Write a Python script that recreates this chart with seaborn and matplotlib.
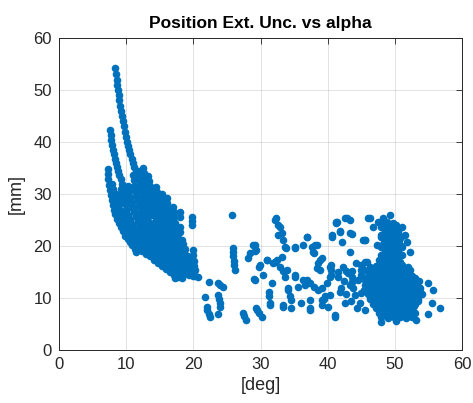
#!/usr/bin/env python3
"""
Position Ext. Unc. vs alpha -- scatter, MATLAB look
"""

import pandas as pd
import matplotlib
matplotlib.use('Agg')
import matplotlib.pyplot as plt
import seaborn as sns

sns.set_style('white')
plt.rcParams['font.family'] = ['Liberation Sans', 'DejaVu Sans']

# ============================================================================
# Data: alpha [deg], uncertainty [mm]
# ============================================================================
# steep streaks on the left (small alpha)
streak_a_deg = [8.4, 8.5, 8.6, 8.7, 8.8, 8.9, 9.0, 9.1, 9.25, 9.4, 9.55, 9.7, 9.85, 10.0,
                10.15, 10.3, 10.45, 10.6, 10.8, 11.0, 11.2, 11.4, 11.6, 11.8, 12.0, 12.3,
                12.6, 12.9, 13.2, 13.6, 14.0, 14.5, 15.0, 15.6, 16.2, 16.8, 17.5, 18.2, 19.0]
streak_a_mm = [54.2, 53.0, 52.0, 51.0, 50.0, 49.0, 48.0, 47.0, 46.0, 45.0, 44.0, 43.0, 42.0, 41.0,
               40.0, 39.2, 38.4, 37.6, 36.8, 36.0, 35.2, 34.4, 33.6, 32.8, 32.0, 31.0,
               30.0, 29.0, 28.0, 27.0, 26.0, 25.0, 24.0, 23.0, 22.0, 21.0, 20.0, 19.0, 18.0]

streak_b_deg = [7.6, 7.7, 7.8, 7.9, 8.0, 8.15, 8.3, 8.45, 8.6, 8.8, 9.0, 9.2, 9.4, 9.6, 9.8,
                10.0, 10.3, 10.6, 10.9, 11.2, 11.6, 12.0, 12.5, 13.0, 13.5, 14.0, 14.6, 15.2,
                15.8, 16.5, 17.2, 18.0]
streak_b_mm = [42.4, 41.4, 40.4, 39.4, 38.5, 37.6, 36.8, 36.0, 35.2, 34.4, 33.6, 32.8, 32.0, 31.2, 30.4,
               29.7, 28.9, 28.1, 27.3, 26.5, 25.7, 24.9, 24.0, 23.2, 22.4, 21.7, 21.0, 20.3,
               19.6, 18.9, 18.2, 17.5]

streak_c_deg = [7.3, 7.3, 7.35, 7.45, 7.55, 7.7, 7.85, 8.0, 8.2, 8.4, 8.65, 8.9, 9.2, 9.5, 9.85,
                10.2, 10.6, 11.0, 11.4, 11.9, 12.4, 12.9, 13.5, 14.1, 14.7, 15.3, 15.9, 16.5,
                17.1, 17.7, 18.3, 10.9, 11.5, 12.0, 11.3]
streak_c_mm = [34.8, 33.8, 32.8, 31.8, 30.8, 29.8, 28.8, 27.9, 27.0, 26.1, 25.2, 24.4, 23.6, 22.8, 22.0,
               21.3, 20.7, 20.2, 19.8, 19.4, 19.0, 18.5, 18.0, 17.4, 16.8, 16.2, 15.6, 15.0,
               14.4, 14.0, 13.8, 20.2, 18.9, 19.2, 19.5]

streak_d_deg = [11.0, 11.1, 11.2, 11.35, 11.5, 11.7, 11.9, 12.15, 12.4, 12.7, 13.0, 13.4, 13.8, 14.3,
                14.8, 15.4, 16.0, 16.7, 17.4, 18.1, 18.8, 19.5, 20.2]
streak_d_mm = [33.6, 32.6, 31.6, 30.6, 29.6, 28.6, 27.6, 26.6, 25.6, 24.6, 23.7, 22.8, 22.0, 21.2,
               20.4, 19.7, 19.0, 18.3, 17.6, 17.0, 16.4, 15.8, 15.3]

streak_e_deg = [12.5, 12.6, 12.7, 12.85, 13.0, 13.2, 13.4, 13.6, 13.85, 14.1, 14.4, 14.7, 15.1, 15.5,
                16.0, 16.5, 17.1, 17.7, 18.4, 19.1, 19.8]
streak_e_mm = [35.0, 34.0, 33.0, 32.0, 31.0, 30.0, 29.0, 28.0, 27.0, 26.0, 25.0, 24.0, 23.0, 22.1,
               21.2, 20.4, 19.6, 18.9, 18.2, 17.6, 17.0]

streak_f_deg = [14.5, 14.55, 14.6, 14.7, 14.85, 15.0, 15.2, 15.45, 15.7, 16.0, 16.35, 16.7, 17.1, 17.5,
                18.0, 18.6, 19.2, 19.8,
                16.1, 16.15, 16.2, 16.3, 16.45, 16.6, 16.8, 17.0, 17.25, 17.5, 17.8, 18.1, 18.5, 18.9, 19.3]
streak_f_mm = [31.4, 30.4, 29.4, 28.4, 27.4, 26.4, 25.4, 24.4, 23.4, 22.4, 21.5, 20.6, 19.8, 19.0,
               18.3, 17.6, 17.0, 16.5,
               29.2, 28.2, 27.2, 26.2, 25.2, 24.2, 23.2, 22.2, 21.2, 20.3, 19.4, 18.6, 17.8, 17.0, 16.3]

streak_g_deg = [8.5, 8.7, 8.9, 9.15, 9.4, 9.7, 10.0, 10.35, 10.7, 11.1, 11.5, 12.0, 12.5, 13.1, 13.7,
                14.3, 15.0, 15.7, 16.4, 17.1, 17.8, 18.5, 19.2,
                10.3, 10.45, 10.6, 10.8, 11.0, 11.25, 11.5, 11.8, 12.1, 12.5, 12.9, 13.4, 13.9, 14.5,
                15.1, 15.8, 16.5, 17.2, 17.9, 18.6, 19.3]
streak_g_mm = [30.0, 29.0, 28.0, 27.0, 26.0, 25.1, 24.2, 23.4, 22.7, 22.0, 21.4, 20.8, 20.3, 19.7, 19.2,
               18.6, 18.0, 17.4, 16.8, 16.2, 15.6, 15.1, 14.7,
               31.5, 30.5, 29.5, 28.5, 27.5, 26.5, 25.5, 24.6, 23.7, 22.8, 22.0, 21.2, 20.5, 19.8,
               19.1, 18.4, 17.7, 17.1, 16.5, 15.9, 15.4]

# extra streaks filling the left band
streak_h_deg = [7.9, 8.0, 8.1, 8.25, 8.4, 8.6, 8.85, 9.1, 9.4, 9.75, 10.1, 10.5, 10.9, 11.4,
                11.9, 12.5, 13.1, 13.7, 14.4, 15.1, 15.8, 16.5, 17.2, 17.9, 18.6, 19.3, 20.0,
                9.3, 9.45, 9.6, 9.8, 10.0, 10.25, 10.5, 10.8, 11.1, 11.5, 11.9, 12.4, 12.9,
                13.5, 14.1, 14.7, 15.4, 16.1, 16.8, 17.5, 18.2, 18.9, 19.6]
streak_h_mm = [32.0, 31.0, 30.0, 29.0, 28.0, 27.0, 26.0, 25.0, 24.2, 23.4, 22.7, 22.0, 21.4, 20.8,
               20.3, 19.8, 19.2, 18.7, 18.1, 17.5, 16.9, 16.3, 15.7, 15.2, 14.8, 14.4, 14.2,
               31.0, 30.0, 29.0, 28.0, 27.0, 26.0, 25.1, 24.2, 23.4, 22.6, 21.9, 21.2, 20.6,
               20.0, 19.4, 18.8, 18.2, 17.6, 17.0, 16.4, 15.9, 15.4, 15.0]

streak_i_deg = [11.8, 11.9, 12.0, 12.1, 12.25, 12.4, 12.6, 12.8, 13.05, 13.3, 13.6, 13.95, 14.3,
                14.75, 15.2, 15.75, 16.3, 16.9, 17.6, 18.3, 19.0, 19.7,
                13.3, 13.4, 13.5, 13.65, 13.8, 14.0, 14.2, 14.45, 14.7, 15.0, 15.35, 15.7, 16.1,
                16.6, 17.1, 17.7, 18.3, 19.0, 19.7]
streak_i_mm = [34.5, 33.5, 32.5, 31.5, 30.5, 29.5, 28.5, 27.5, 26.5, 25.5, 24.5, 23.6, 22.7,
               21.9, 21.1, 20.3, 19.6, 18.9, 18.2, 17.5, 16.9, 16.3,
               33.5, 32.5, 31.5, 30.5, 29.5, 28.5, 27.5, 26.5, 25.5, 24.5, 23.5, 22.6, 21.7,
               20.8, 20.0, 19.2, 18.5, 17.8, 17.2]

streak_j_deg = [15.3, 15.35, 15.45, 15.6, 15.75, 15.95, 16.2, 16.45, 16.75, 17.1, 17.5, 17.9,
                18.4, 18.9, 19.5,
                17.0, 17.05, 17.1, 17.2, 17.35, 17.5, 17.7, 17.95, 18.25, 18.6, 19.0, 19.4]
streak_j_mm = [30.0, 29.0, 28.0, 27.0, 26.0, 25.0, 24.0, 23.0, 22.0, 21.0, 20.1, 19.3,
               18.5, 17.8, 17.2,
               27.5, 26.5, 25.5, 24.5, 23.5, 22.5, 21.5, 20.5, 19.6, 18.8, 18.0, 17.3]

# short vertical runs near 18-20 deg
tail_deg = [18.0, 18.0, 18.0, 18.05, 18.3, 18.5, 18.8, 19.8, 19.8, 19.8,
            20.0, 20.0, 20.05, 20.1, 20.15, 20.2, 17.3, 20.7]
tail_mm = [26.5, 25.6, 23.7, 22.7, 21.2, 20.3, 19.5, 25.6, 24.8, 24.0,
           19.2, 18.2, 17.2, 16.2, 15.2, 14.3, 13.8, 14.0]

# sparse points between 20 and 32 deg
gap_deg = [21.7, 22.3, 22.0, 22.1, 22.3, 22.5, 23.7, 24.0, 24.4, 23.7, 23.8, 23.9, 24.0, 23.7,
           25.8, 25.9, 25.9, 25.95, 26.0, 26.1, 26.2, 27.4, 27.6, 27.8, 29.2, 29.2, 28.2, 28.4,
           28.9, 29.4, 29.0, 29.2, 29.5, 29.4, 29.8, 30.2, 29.9, 29.8, 30.4, 30.9, 31.7, 31.2,
           31.3, 31.4, 31.4]
gap_mm = [10.2, 13.0, 8.3, 7.6, 7.0, 6.3, 12.9, 12.5, 12.2, 10.6, 9.8, 9.0, 8.3, 7.0,
          26.0, 19.6, 18.8, 18.0, 17.2, 16.3, 15.4, 7.1, 6.5, 5.8, 20.2, 19.0, 17.6, 18.6,
          20.2, 19.2, 13.7, 13.5, 7.7, 8.0, 7.2, 6.4, 16.3, 16.0, 14.4, 17.3, 12.8, 11.2,
          10.3, 9.0, 8.7]

# scattered middle range 32-46 deg
mid_deg = [32.3, 32.2, 32.6, 32.9, 33.2, 32.6, 33.4, 33.8, 33.6, 31.9, 32.4, 32.9, 33.2, 32.2,
           33.4, 33.6, 33.9, 34.1, 34.1, 34.4, 34.6, 34.6, 33.4, 33.4, 35.1, 35.1, 35.1, 35.1,
           35.6, 35.97, 36.9, 36.9, 36.4, 36.4, 36.6, 36.9, 37.4, 37.9, 37.4, 37.4, 37.4, 37.6,
           38.4, 38.1, 37.9, 37.8, 38.6, 38.4, 38.9, 38.9, 39.1, 39.1, 39.4, 39.1, 38.6, 39.1,
           39.9, 40.3, 40.3, 40.5, 40.5, 40.5, 40.6, 40.6, 41.2, 41.4, 41.8, 42.1, 41.1, 41.1,
           40.1, 39.6, 40.3, 41.6, 41.8, 42.6, 42.8, 42.9, 43.3, 43.3, 43.3, 43.3, 43.6, 43.6,
           43.6, 44.3, 44.9, 44.9, 44.9, 45.3, 45.6, 45.6, 45.8, 45.6, 46.3, 41.3, 42.6, 43.6,
           41.8, 30.9, 32.2]
mid_mm = [25.3, 25.0, 24.0, 23.7, 22.5, 22.1, 21.2, 19.6, 19.9, 16.7, 17.3, 16.0, 17.9, 17.0,
          15.1, 14.1, 15.4, 11.9, 11.5, 10.3, 9.6, 8.0, 8.7, 8.3, 19.9, 19.6, 14.1, 14.4,
          12.2, 9.0, 21.8, 21.7, 20.2, 13.5, 12.5, 13.5, 12.9, 12.2, 9.6, 8.0, 7.7, 19.9,
          20.2, 20.2, 18.6, 18.8, 16.7, 15.7, 15.4, 17.3, 17.6, 9.6, 9.9, 8.7, 11.5, 11.9,
          12.8, 14.1, 16.0, 16.3, 15.3, 14.4, 22.1, 21.7, 24.4, 24.6, 22.7, 20.8, 6.7, 6.4,
          8.3, 10.3, 10.6, 14.1, 11.2, 9.0, 15.1, 25.4, 25.0, 22.5, 18.8, 12.5, 15.1, 14.1,
          13.1, 8.0, 16.3, 15.3, 14.4, 21.2, 21.2, 17.0, 17.0, 12.5, 9.9, 24.7, 25.3, 22.4,
          22.8, 17.3, 17.0]

# patch left of the main cluster
patch_deg = [42.3, 43.0, 42.5, 43.8, 44.5, 44.0, 45.0, 42.8, 43.5, 44.8, 45.2, 44.2, 45.5, 42.0,
             41.5, 45.9]
patch_mm = [16.0, 14.8, 13.2, 12.0, 13.5, 10.6, 11.0, 10.8, 9.4, 9.0, 15.5, 16.8, 7.7, 12.0,
            15.0, 13.8]

# tall column of the cluster around 48-51 deg
column_deg = [48.3, 47.5, 48.8, 48.2, 49.3, 50.2, 47.9, 51.0, 48.5, 49.6, 50.4, 48.0, 49.0, 50.1,
              51.5, 48.4, 49.4, 50.6, 51.8, 47.3, 48.1, 49.1, 50.0, 50.8, 48.5, 49.6, 50.5, 52.3,
              48.0, 49.0, 50.0, 51.0, 47.6, 48.6, 49.6, 50.5, 48.1, 49.1, 50.1, 51.1,
              49.3, 46.3, 46.8, 46.0, 45.6,
              49.8, 48.9, 49.9, 48.6, 49.5, 50.5, 48.0, 49.0, 49.9, 50.9, 48.6, 49.6, 50.4,
              48.0, 49.0, 50.0, 51.0, 48.5, 49.5, 50.5, 48.1, 49.1, 50.1, 47.8, 48.8, 49.8, 50.8]
column_mm = [25.3, 24.7, 24.7, 24.0, 24.0, 24.0, 23.7, 23.7, 23.0, 23.0, 23.0, 22.1, 22.1, 22.1,
             22.1, 21.2, 21.2, 21.2, 20.8, 20.2, 20.2, 20.2, 20.2, 20.2, 19.3, 19.3, 19.3, 18.9,
             18.3, 18.3, 18.3, 18.3, 17.3, 17.3, 17.3, 17.3, 16.4, 16.4, 16.4, 16.4,
             26.0, 25.3, 23.7, 25.3, 21.2,
             24.5, 23.5, 23.5, 22.6, 22.6, 22.6, 21.7, 21.7, 21.7, 21.7, 20.7, 20.7, 20.7,
             19.8, 19.8, 19.8, 19.8, 18.8, 18.8, 18.8, 17.8, 17.8, 17.8, 16.9, 16.9, 16.9, 16.9]

# dense blob of the cluster, 46-56 deg and 5-16 mm
blob_deg = [46.3, 47.2, 52.0,
            45.8, 46.8, 47.7, 48.6, 49.5, 50.4, 51.3, 52.2,
            46.2, 47.1, 48.0, 48.9, 49.8, 50.7, 51.6, 52.5,
            45.5, 46.5, 47.4, 48.3, 49.2, 50.1, 51.0, 51.9, 52.8, 53.6,
            46.0, 46.9, 47.8, 48.7, 49.6, 50.5, 51.4, 52.3, 53.2, 55.0,
            45.4, 46.4, 47.3, 48.2, 49.1, 50.0, 50.9, 51.8, 52.7, 53.5, 55.7,
            46.0, 46.9, 47.8, 48.7, 49.6, 50.5, 51.4, 52.3, 53.2, 54.0,
            46.4, 47.3, 48.2, 49.1, 50.0, 50.9, 51.8, 52.7, 53.5,
            46.8, 47.7, 48.6, 49.5, 50.4, 51.3, 52.2, 53.0, 55.5,
            47.2, 48.1, 49.0, 49.9, 50.8, 51.7, 52.6, 56.7,
            47.6, 48.5, 49.4, 50.3, 51.2, 52.1, 53.0, 55.0,
            48.0, 49.0, 49.9, 50.8, 51.7, 52.6,
            48.0, 50.2, 53.2,
            47.0, 48.0, 49.0, 50.0, 51.0,
            46.6, 47.5, 48.4, 49.3, 50.2, 51.1, 52.0,
            45.8, 46.7, 47.6, 48.5, 49.4, 50.3, 51.2, 52.1, 53.0,
            46.2, 47.1, 48.0, 48.9, 49.8, 50.7, 51.6, 52.5, 53.3,
            46.5, 47.4, 48.3, 49.2, 50.1, 51.0, 51.9, 52.8, 53.8,
            46.7, 47.6, 48.5, 49.4, 50.3, 51.2, 52.1, 53.0, 53.8,
            47.0, 47.9, 48.8, 49.7, 50.6, 51.5, 52.4, 53.2,
            47.3, 48.2, 49.1, 50.0, 50.9, 51.8, 52.6, 53.4,
            47.5, 48.4, 49.3, 50.2, 51.1, 52.0, 52.9,
            48.0, 48.9, 49.8, 50.7, 51.6, 52.5,
            48.5, 49.4, 50.3, 51.2, 52.1]
blob_mm = [16.0, 16.1, 15.9,
           15.2, 15.3, 15.1, 15.2, 15.4, 15.2, 15.0, 15.3,
           14.3, 14.2, 14.4, 14.3, 14.1, 14.3, 14.4, 14.2,
           13.4, 13.5, 13.3, 13.4, 13.6, 13.4, 13.2, 13.4, 13.5, 13.3,
           12.5, 12.4, 12.6, 12.5, 12.3, 12.5, 12.6, 12.4, 12.5, 12.8,
           11.6, 11.7, 11.5, 11.6, 11.8, 11.6, 11.4, 11.6, 11.7, 11.5, 11.5,
           10.7, 10.6, 10.8, 10.7, 10.5, 10.7, 10.8, 10.6, 10.7, 10.8,
           9.8, 9.9, 9.7, 9.8, 10.0, 9.8, 9.6, 9.8, 9.9,
           8.9, 8.8, 9.0, 8.9, 8.7, 8.9, 9.0, 8.8, 9.0,
           8.0, 8.1, 7.9, 8.0, 8.2, 8.0, 7.8, 8.0,
           7.1, 7.0, 7.2, 7.1, 6.9, 7.1, 7.2, 7.0,
           6.3, 6.2, 6.4, 6.3, 6.1, 6.3,
           5.4, 5.6, 5.8,
           15.7, 15.6, 15.8, 15.7, 15.6,
           14.8, 14.7, 14.9, 14.8, 14.7, 14.9, 14.8,
           13.9, 13.8, 14.0, 13.9, 13.8, 14.0, 13.9, 13.8, 13.9,
           13.0, 12.9, 13.1, 13.0, 12.9, 13.1, 13.0, 12.9, 13.0,
           12.0, 12.1, 11.9, 12.0, 12.1, 11.9, 12.0, 12.1, 12.0,
           11.1, 11.0, 11.2, 11.1, 11.0, 11.2, 11.1, 11.0, 11.1,
           10.2, 10.3, 10.1, 10.2, 10.3, 10.1, 10.2, 10.3,
           9.3, 9.4, 9.2, 9.3, 9.4, 9.2, 9.3, 9.4,
           8.4, 8.5, 8.3, 8.4, 8.5, 8.3, 8.4,
           7.5, 7.6, 7.4, 7.5, 7.6, 7.4,
           6.7, 6.6, 6.8, 6.7, 6.6]

# ============================================================================
# Build table and plot
# ============================================================================
alpha = (streak_a_deg + streak_b_deg + streak_c_deg + streak_d_deg + streak_e_deg +
         streak_f_deg + streak_g_deg + streak_h_deg + streak_i_deg + streak_j_deg +
         tail_deg + gap_deg + mid_deg + patch_deg + column_deg + blob_deg)
unc = (streak_a_mm + streak_b_mm + streak_c_mm + streak_d_mm + streak_e_mm +
       streak_f_mm + streak_g_mm + streak_h_mm + streak_i_mm + streak_j_mm +
       tail_mm + gap_mm + mid_mm + patch_mm + column_mm + blob_mm)
df = pd.DataFrame({'alpha': alpha, 'unc': unc})

fig = plt.figure(figsize=(4.73, 4.03), dpi=100)
ax = fig.add_axes([59 / 473, 53 / 403, 403 / 473, 312 / 403])

sns.scatterplot(data=df, x='alpha', y='unc', ax=ax, color='#0072BD',
                s=30, linewidth=0, alpha=1.0, legend=False)

ax.set_xlim(0, 60)
ax.set_ylim(0, 60)
ax.set_xticks(range(0, 61, 10))
ax.set_yticks(range(0, 61, 10))
ax.grid(True, color='#262626', alpha=0.15, linewidth=0.6)
ax.set_axisbelow(True)
ax.tick_params(direction='in', length=4, width=0.6, top=True, right=True,
               labelsize=12, colors='#262626', pad=5)
for sp in ax.spines.values():
    sp.set_visible(True)
    sp.set_color('#262626')
    sp.set_linewidth(0.7)

ax.set_xlabel('[deg]', fontsize=13, color='#262626', labelpad=4)
ax.set_ylabel('[mm]', fontsize=13, color='#262626', labelpad=6)
ax.set_title('Position Ext. Unc. vs alpha', fontsize=12.5, fontweight='bold',
             color='black', pad=7)

fig.savefig('out.png', dpi=100, facecolor='white')
print("done")
